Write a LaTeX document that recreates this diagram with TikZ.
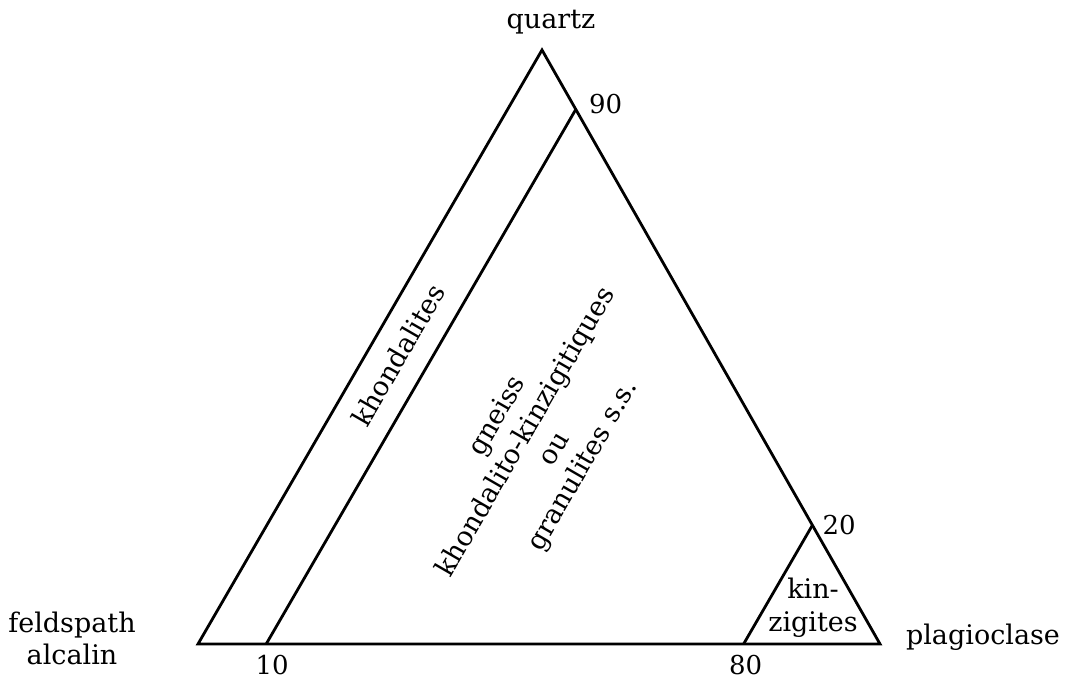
\documentclass[tikz,border=0pt]{standalone}
\usepackage{fontspec}
\setmainfont{DejaVu Serif}
\usepackage{tikz}
\usetikzlibrary{positioning,calc}

\begin{document}
\begin{tikzpicture}[
  x=1pt, y=1pt,
  edge/.style={line width=2.8pt, line join=miter},
  pole/.style={font=\fontsize{27}{32}\selectfont, align=center, inner sep=0pt},
  tick/.style={font=\fontsize{26}{30}\selectfont, inner sep=0pt},
  zone/.style={font=\fontsize{27}{33}\selectfont, align=center, inner sep=0pt}
]
\useasboundingbox (0,0) rectangle (1068,677);

\coordinate (fk) at (198,33);
\coordinate (pl) at (880,33);
\coordinate (qz) at (542,627);
\coordinate (b10) at ($(fk)!0.1!(pl)$);
\coordinate (r90) at ($(qz)!0.1!(pl)$);
\coordinate (b80) at ($(fk)!0.8!(pl)$);
\coordinate (r20) at ($(qz)!0.8!(pl)$);

\draw[edge] (fk) -- (qz) -- (pl) -- cycle;
\draw[edge] (b10) -- (r90);
\draw[edge] (b80) -- (r20);

\node[pole] (quartz) at (551,655) {quartz};
\node[pole] (feld) at (72,39) {feldspath\\alcalin};
\node[pole] (plag) at (983,40) {plagioclase};

\node[tick, above right=-5pt and 13pt of r90] (t90) {90};
\node[tick, above right=-10pt and 10pt of r20] (t20) {20};
\node[tick, below=11pt of b10, xshift=6pt] (t10) {10};
\node[tick, below=11pt of b80, xshift=2pt] (t80) {80};

\node[zone, rotate=60] (khond) at (398,322) {khondalites};
\node[zone, rotate=60] (gneiss) at (541,236) {gneiss\\khondalito-kinzigitiques\\ou\\granulites s.s.};
\node[zone] (kinz) at (813,69) {kin-\\zigites};
\end{tikzpicture}
\end{document}
